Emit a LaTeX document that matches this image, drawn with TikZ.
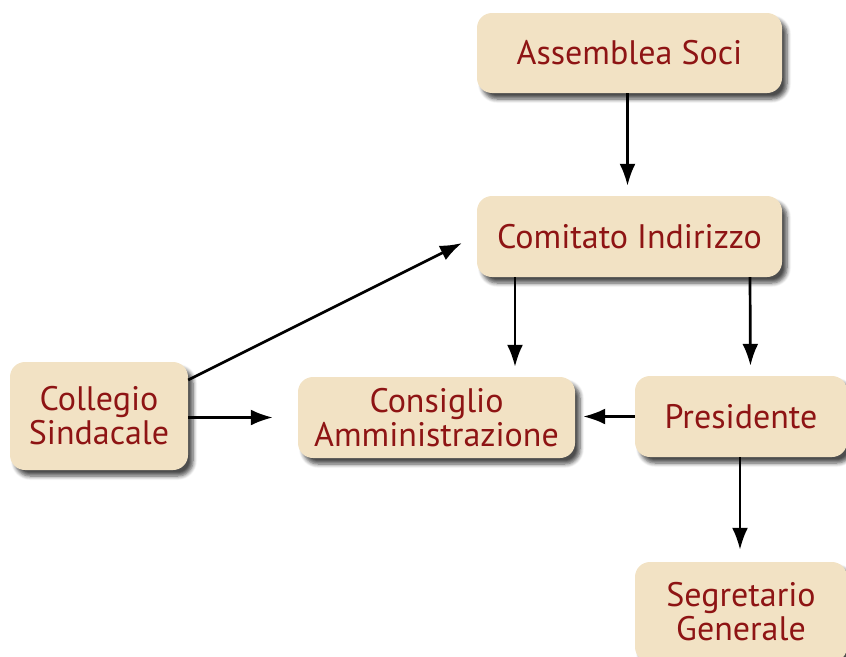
\documentclass[tikz,border=0pt]{standalone}
\usepackage{fontspec}
\setmainfont{PT Sans}
\usetikzlibrary{arrows.meta,shadows.blur}
\definecolor{boxfill}{HTML}{F2E2C4}
\definecolor{boxtext}{HTML}{8E1414}
\begin{document}
\begin{tikzpicture}[x=1pt,y=-1pt,
  orgbox/.style={fill=boxfill, rounded corners=15pt, text=boxtext, align=center,
    font=\fontsize{34}{34}\selectfont, inner sep=0pt,
    blur shadow={shadow xshift=5pt, shadow yshift=-6pt, shadow blur steps=6, shadow blur radius=4pt, shadow opacity=70}},
  conn/.style={line width=2.7pt, -{Latex[length=22pt,width=16pt]}}]
\useasboundingbox (0,0) rectangle (846,656);
\node[orgbox, minimum width=305pt, minimum height=80pt] (assemblea) at (629.5,53) {Assemblea Soci};
\node[orgbox, minimum width=305pt, minimum height=81pt] (comitato) at (629.5,236.5) {Comitato Indirizzo};
\node[orgbox, minimum width=178pt, minimum height=108pt] (collegio) at (99,416) {Collegio\\Sindacale};
\node[orgbox, minimum width=277pt, minimum height=81pt] (consiglio) at (436.5,417.5) {Consiglio\\Amministrazione};
\node[orgbox, minimum width=212pt, minimum height=81pt] (presidente) at (741,416.5) {Presidente};
\node[orgbox, minimum width=212pt, minimum height=100pt] (segretario) at (741,612) {Segretario\\Generale};
\coordinate (colcom) at (462,243);
\coordinate (colstart) at ([yshift=36pt]collegio.east);
\draw[conn, shorten >=10pt] ([xshift=-2pt]assemblea.south) -- ([xshift=-2pt]comitato.north);
\draw[conn, shorten >=10pt] ([xshift=-114.5pt]comitato.south) -- ([xshift=78.5pt]consiglio.north);
\draw[conn, shorten >=10pt] ([xshift=120.5pt]comitato.south) -- ([xshift=9.5pt]presidente.north);
\draw[conn] (colstart) -- (colcom);
\draw[conn, shorten >=25pt] ([yshift=-1.5pt]collegio.east) -- ([yshift=-1.5pt]collegio.east -| consiglio.west);
\draw[conn, shorten >=8pt] (presidente.west) -- (presidente.west -| consiglio.east);
\draw[conn, shorten >=12pt] ([xshift=-1pt]presidente.south) -- ([xshift=-1pt]segretario.north);
\end{tikzpicture}
\end{document}
